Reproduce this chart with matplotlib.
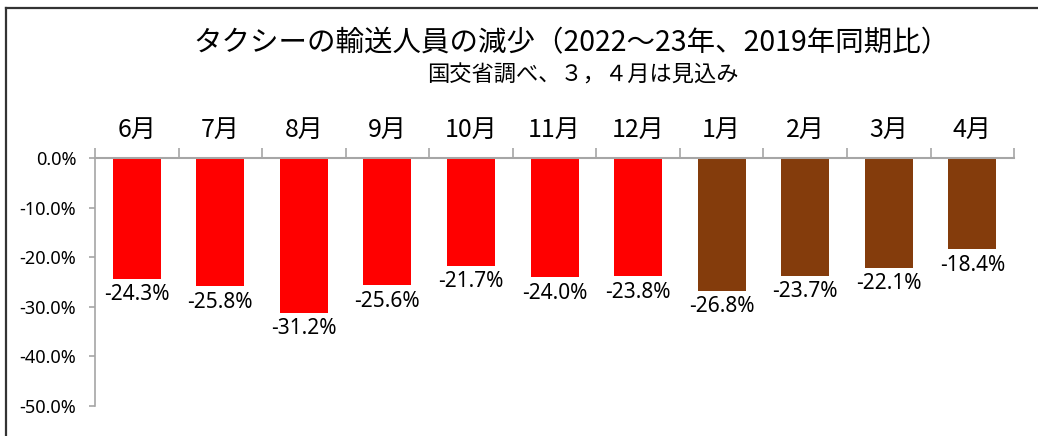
import numpy as np
import matplotlib.pyplot as plt
from matplotlib.lines import Line2D

# Data
months = ['6月', '7月', '8月', '9月', '10月', '11月', '12月', '1月', '2月', '3月', '4月']
change = [-24.3, -25.8, -31.2, -25.6, -21.7, -24.0, -23.8, -26.8, -23.7, -22.1, -18.4]
year = [2022] * 7 + [2023] * 4

title = 'タクシーの輸送人員の減少（2022～23年、2019年同期比）'
subtitle = '国交省調べ、３，４月は見込み'

plt.rcParams['font.family'] = ['Noto Sans CJK JP', 'DejaVu Sans']

colors = ['#FF0000' if y == 2022 else '#843C0C' for y in year]

fig = plt.figure(figsize=(10.38, 4.36), dpi=100)
ax = fig.add_axes([0.0915, 0.0688, 0.8855, 0.5688])

x = np.arange(len(months))
ax.bar(x, change, width=0.575, color=colors)

for xi, v in zip(x, change):
    ax.annotate(f'{v:.1f}%', (xi, v), xytext=(0, -4), textcoords='offset points',
                ha='center', va='top', fontsize=15, family=['Noto Sans', 'DejaVu Sans'])

ax.set_xlim(-0.5, len(months) - 0.5)
ax.set_ylim(-50, 0)

# category labels on top, boundary ticks pointing up
ax.xaxis.tick_top()
ax.set_xticks(x)
ax.set_xticklabels(months, fontsize=18)
ax.tick_params(axis='x', which='major', length=0, pad=11)
ax.set_xticks(np.arange(len(months) + 1) - 0.5, minor=True)
ax.tick_params(axis='x', which='minor', length=7, color='#a6a6a6', width=1.2)

yt = np.arange(0, -51, -10)
ax.set_yticks(yt)
ax.set_yticklabels([f'{v:.1f}%' for v in yt], fontsize=13, family=['Noto Sans', 'DejaVu Sans'])
ax.tick_params(axis='y', length=4.5, color='#a6a6a6', width=1.2, pad=9)

for s in ['right', 'bottom']:
    ax.spines[s].set_visible(False)
ax.spines['top'].set_color('#a6a6a6')
ax.spines['top'].set_linewidth(1.5)
ax.spines['left'].set_color('#a6a6a6')
ax.spines['left'].set_linewidth(1.2)

fig.text(0.551, 0.90, title, ha='center', va='center', fontsize=20.5)
fig.text(0.561, 0.828, subtitle, ha='center', va='center', fontsize=16)

# outer chart frame (cut off at right and bottom)
fig.add_artist(Line2D([6 / 1038, 1], [1 - 8 / 436, 1 - 8 / 436], color='#333333', lw=1.6))
fig.add_artist(Line2D([6 / 1038, 6 / 1038], [0, 1 - 8 / 436], color='#333333', lw=1.6))

fig.savefig('out.png', dpi=100)
